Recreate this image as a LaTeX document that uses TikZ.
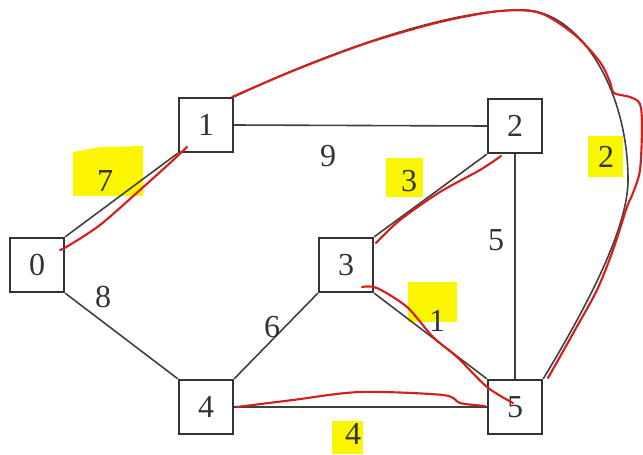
\documentclass[tikz,border=0pt]{standalone}
\usepackage{fontspec}
\setmainfont{Liberation Serif}
\begin{document}
\begin{tikzpicture}[x=0.75pt,y=-0.75pt,
  vbox/.style={draw=black!80,line width=1.3pt,minimum width=41pt,minimum height=41pt,inner sep=0pt,
    font=\fontsize{24}{26}\selectfont,text=black!80},
  wlab/.style={font=\fontsize{24}{26}\selectfont,text=black!80,inner sep=0pt},
  edge/.style={draw=black!75,line width=1.2pt},
  ink/.style={draw={rgb,255:red,215;green,30;blue,30},line width=1.6pt,line cap=round,line join=round},
  hl/.style={fill={rgb,255:red,250;green,245;blue,0},draw=none}]
\useasboundingbox (0,0) rectangle (643,454);
% highlights
\fill[hl] (73,152) -- (100,147) -- (143,146) -- (143,196) -- (73,196) -- cycle;
\fill[hl] (386,158) rectangle (423,197);
\fill[hl] (588,136) rectangle (623,177);
\fill[hl] (408,282) rectangle (457,322);
\fill[hl] (332,421) rectangle (363,454);
% nodes
\node[vbox] (n0) at (37,265) {0};
\node[vbox] (n1) at (206,125) {1};
\node[vbox] (n2) at (515,126) {2};
\node[vbox] (n3) at (346,265) {3};
\node[vbox] (n4) at (206,407) {4};
\node[vbox] (n5) at (515,407) {5};
% edges
\draw[edge] (n0.north east) -- (n1.south west);
\draw[edge] (n1.east) -- (n2.west);
\draw[edge] (n0.south east) -- (n4.north west);
\draw[edge] (n2.south west) -- (n3.north east);
\draw[edge] (n2.south) -- (n5.north);
\draw[edge] (n3.south west) -- (n4.north east);
\draw[edge] (n3.south east) -- (n5.north west);
\draw[edge] (n4.east) -- (n5.west);
\draw[edge] (n1.north east) .. controls (300,65) and (440,8) .. (525,10)
  .. controls (580,12) and (628,90) .. (628,180)
  .. controls (628,220) and (600,285) .. (n5.north east);
% weights
\node[wlab] (w7) at (105,181) {7};
\node[wlab] (w9) at (328,156) {9};
\node[wlab] (w8) at (103,297) {8};
\node[wlab] (w3) at (409,181) {3};
\node[wlab] (w5) at (496,240) {5};
\node[wlab] (w6) at (272,327) {6};
\node[wlab] (w1) at (437,321) {1};
\node[wlab] (w4) at (353,434) {4};
\node[wlab] (w2) at (606,157) {2};
% red ink
\draw[ink] plot[smooth] coordinates {(60,250) (68,246) (100,225) (140,190) (170,163) (187,147)};
\draw[ink] plot[smooth] coordinates {(376,243) (400,220) (440,192) (480,170) (501,156)};
\draw[ink] plot[smooth] coordinates {(362,287) (377,288) (407,307) (433,337) (457,357) (487,387) (513,403)};
\draw[ink] plot[smooth] coordinates {(237,407) (293,400) (360,392) (443,395) (460,403) (485,406)};
\draw[ink] plot[smooth,tension=0.5] coordinates {(232,97) (295,70) (367,43) (440,22) (500,11) (540,13) (575,35) (600,62) (610,82) (614,93) (630,97) (640,104) (642,127) (640,170) (633,193) (627,207) (613,250) (597,290) (575,330) (548,378)};
\end{tikzpicture}
\end{document}
